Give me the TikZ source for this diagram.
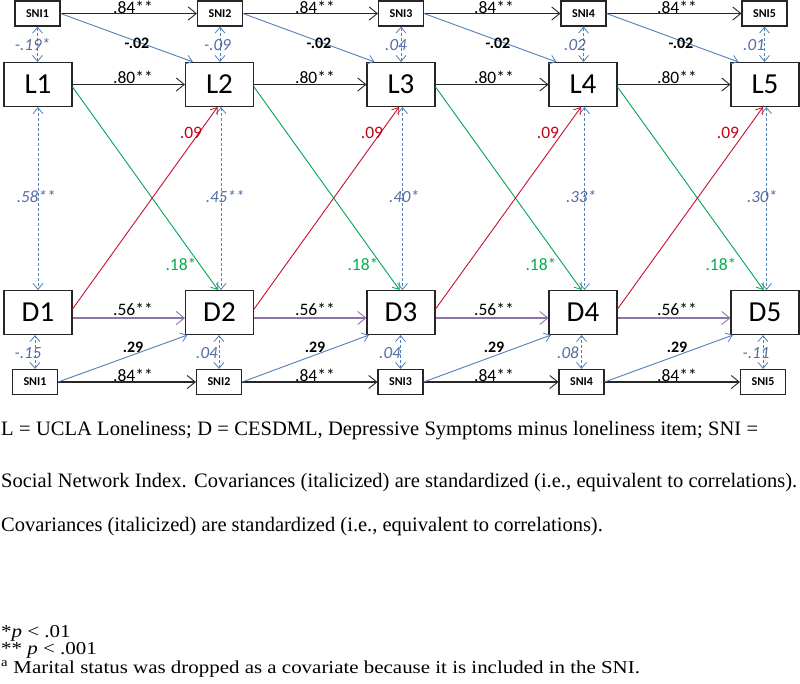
\documentclass[tikz,border=0pt]{standalone}
\usepackage{fontspec}
\setmainfont{Liberation Serif}
\newfontfamily\calib{Carlito}
\newfontfamily\notefont{Liberation Serif}
\newfontfamily\footfont[FakeStretch=1.15]{Liberation Serif}
\usetikzlibrary{arrows.meta,calc}
\definecolor{lnblue}{RGB}{79,129,189}
\definecolor{covtext}{RGB}{84,110,160}
\definecolor{lnred}{RGB}{200,16,46}
\definecolor{txred}{RGB}{200,0,20}
\definecolor{lngreen}{RGB}{0,165,85}
\definecolor{txgreen}{RGB}{0,176,80}
\definecolor{lnpurple}{RGB}{140,118,165}
\begin{document}
\begin{tikzpicture}[x=1pt,y=-1pt,
  box/.style={draw=black!85, line width=1.1pt, inner sep=0pt, fill=white},
  snibox/.style={box, minimum width=45pt, minimum height=25pt, font=\calib\bfseries\fontsize{12}{13}\selectfont},
  varbox/.style={box, minimum width=68pt, minimum height=44pt, font=\calib\fontsize{29}{30}\selectfont},
  tipbig/.style={-{Straight Barb[length=8pt,width=13pt,line width=0.9pt]}},
  tipsmall/.style={-{Straight Barb[length=6pt,width=9pt,line width=0.8pt]}},
  blackarr/.style={tipbig, draw=black!85, line width=1.1pt},
  purparr/.style={tipbig, draw=lnpurple, line width=1.1pt},
  bluearr/.style={tipsmall, draw=lnblue, line width=0.9pt},
  redarr/.style={tipsmall, draw=lnred, line width=0.9pt},
  greenarr/.style={tipsmall, draw=lngreen, line width=0.9pt},
  covarr/.style={draw=lnblue, line width=0.8pt, dash pattern=on 3pt off 2pt,
     {Straight Barb[length=6pt,width=10pt,line width=0.8pt]}-{Straight Barb[length=6pt,width=10pt,line width=0.8pt]}},
  coef/.style={anchor=base, inner sep=0pt, font=\calib\fontsize{17.5}{18}\selectfont},
  bcoef/.style={anchor=base, inner sep=0pt, font=\calib\bfseries\fontsize{16}{17}\selectfont},
  covlab/.style={anchor=base, inner sep=0pt, text=covtext, font=\calib\itshape\fontsize{17}{18}\selectfont},
  redlab/.style={coef, text=txred},
  greenlab/.style={coef, text=txgreen},
  notetext/.style={anchor=base west, inner sep=0pt, font=\notefont\fontsize{20.5}{22}\selectfont},
  foottext/.style={anchor=base west, inner sep=0pt, font=\footfont\fontsize{18.2}{19}\selectfont},
]
\useasboundingbox (0,0) rectangle (800,683);
\fill[white] (0,0) rectangle (800,683);

% nodes
\foreach \i/\tx/\lx/\bx in {1/37.5/38/35, 2/220/219.5/219, 3/401/401/400.5, 4/583.5/583/581.5, 5/764.5/765/763}{
  \node[snibox] (t\i) at (\tx,13.5) {SNI\i};
  \node[varbox] (L\i) at (\lx,84.5) {L\i};
  \node[varbox] (D\i) at (\lx,312.5) {D\i};
  \node[snibox] (b\i) at (\bx,382) {SNI\i};
}

% covariances
\foreach \i in {1,...,5}{
  \draw[covarr] (t\i.south) -- (t\i.south |- L\i.north);
  \draw[covarr] (b\i.north) -- (b\i.north |- D\i.south);
}
\draw[covarr] (L1.south) -- (D1.north);
\foreach \i in {2,...,5}{
  \draw[covarr] ([xshift=1.5pt]L\i.south) -- ([xshift=1.5pt]D\i.north);
}

% paths
\foreach \i/\j in {1/2,2/3,3/4,4/5}{
  \draw[blackarr] (t\i.east) -- (t\j.west);
  \draw[blackarr] (L\i.east) -- (L\j.west);
  \draw[purparr] ([yshift=-5.5pt]D\i.east) -- ([yshift=-5.5pt]D\j.west);
  \draw[blackarr] (b\i.east) -- (b\j.west);
  \draw[bluearr] (t\i.east) -- ([xshift=8pt]L\j.north west);
  \draw[bluearr] (b\i.east) -- ([xshift=2.5pt]D\j.south west);
  \draw[greenarr] ([yshift=-2.5pt]L\i.east) -- ([xshift=-1.5pt]D\j.north);
  \draw[redarr] ([yshift=3.5pt]D\i.east) -- ([xshift=-2pt]L\j.south);
}

% coefficient labels
\foreach \x in {133,315,494,677}{
  \node[coef] at (\x,13) {.84**};
  \node[bcoef] at (\x+4,48) {-.02};
  \node[coef] at (\x,83) {.80**};
  \node[coef] at (\x,315) {.56**};
  \node[bcoef] at (\x,352) {.29};
  \node[coef] at (\x,381) {.84**};
}
\foreach \x in {191,372,548,728}{
  \node[redlab] at (\x,138) {.09};
}
\foreach \x in {181,363,541,721}{
  \node[greenlab] at (\x,270) {.18*};
}
% covariance labels
\node[covlab] at (32.5,50) {-.19*};
\node[covlab] at (217.5,50) {-.09};
\node[covlab] at (396,50) {.04};
\node[covlab] at (575,50) {.02};
\node[covlab] at (754,50) {.01};
\node[covlab] at (36,202) {.58**};
\node[covlab] at (225,202) {.45**};
\node[covlab] at (404,202) {.40*};
\node[covlab] at (581,202) {.33*};
\node[covlab] at (762,202) {.30*};
\node[covlab] at (28,358) {-.15};
\node[covlab] at (207,358) {.04};
\node[covlab] at (390,358) {.04};
\node[covlab] at (568,358) {.08};
\node[covlab] at (756,358) {-.11};

% notes
\node[notetext] (n1) at (1,435) {\makebox[757pt][s]{L = UCLA Loneliness; D = CESDML, Depressive Symptoms minus loneliness item; SNI =}};
\node[notetext] (n2) at (1,487) {\makebox[796pt][s]{Social Network Index. Covariances (italicized) are standardized (i.e., equivalent to correlations).}};
\node[notetext] (n3) at (1,531) {Covariances (italicized) are standardized (i.e., equivalent to correlations).};
\node[foottext] (f1) at (1,637) {*\textit{p} < .01};
\node[foottext] (f2) at (1,654.5) {** \textit{p} < .001};
\node[foottext] (f3) at (1,673) {\textsuperscript{a} Marital status was dropped as a covariate because it is included in the SNI.};
\end{tikzpicture}
\end{document}
